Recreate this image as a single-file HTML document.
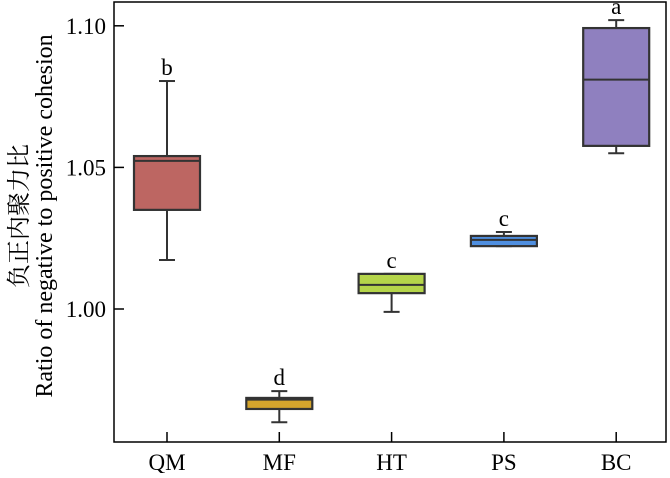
<!DOCTYPE html>
<html><head><meta charset="utf-8"><style>
body{margin:0;background:#fff}
svg text{font-family:"Liberation Serif","Noto Serif CJK SC",serif;fill:#000}
</style></head><body>
<svg id="chart" width="670" height="473" xmlns="http://www.w3.org/2000/svg"></svg>
<script>
const categories=["QM","MF","HT","PS","BC"];
const whiskerLow=[1.0173,0.960,0.999,1.0222,1.055];
const q1=[1.035,0.9647,1.0056,1.0222,1.0576];
const medians=[1.0523,0.968,1.0085,1.0244,1.081];
const q3=[1.054,0.9686,1.0124,1.0258,1.0992];
const whiskerHigh=[1.0805,0.971,1.0124,1.0272,1.102];
const letters=["b","d","c","c","a"];
const colors=["#bd6662","#d4a42c","#b5d54a","#4f8fe0","#8f80bf"];
const yTicks=[1.00,1.05,1.10];
const yTickLabels=["1.00","1.05","1.10"];

const NS="http://www.w3.org/2000/svg";
const svg=document.getElementById("chart");
const L=114,R=666,T=2,B=442;
function y(v){return 309-(v-1)*2832;}
function x(i){return 167+i*112.3;}
function mk(tag,attrs,parent){const e=document.createElementNS(NS,tag);for(const k in attrs)e.setAttribute(k,attrs[k]);(parent||svg).appendChild(e);return e;}

const frame=mk("rect",{x:L,y:T,width:R-L,height:B-T,fill:"none",stroke:"#000","stroke-width":1.5});



yTicks.forEach((v,i)=>{
  const t=mk("line",{x1:L,x2:L+10,y1:y(v),y2:y(v),stroke:"#000","stroke-width":1.5});
  
  
  const lb=mk("text",{x:L-8,y:y(v)+8,"text-anchor":"end","font-size":23});
  lb.textContent=yTickLabels[i];
  
  
});

categories.forEach((c,i)=>{
  const cx=x(i),w=66;
  const t=mk("line",{x1:cx,x2:cx,y1:B,y2:B-10,stroke:"#000","stroke-width":1.5});
  
  
  const lb=mk("text",{x:cx,y:470,"text-anchor":"middle","font-size":23});
  lb.textContent=c;
  
  
  const g=mk("g",{});
  
  
  mk("line",{x1:cx,x2:cx,y1:y(whiskerHigh[i]),y2:y(q3[i]),stroke:"#333","stroke-width":2},g);
  mk("line",{x1:cx,x2:cx,y1:y(q1[i]),y2:y(whiskerLow[i]),stroke:"#333","stroke-width":2},g);
  mk("line",{x1:cx-8,x2:cx+8,y1:y(whiskerHigh[i]),y2:y(whiskerHigh[i]),stroke:"#333","stroke-width":2},g);
  mk("line",{x1:cx-8,x2:cx+8,y1:y(whiskerLow[i]),y2:y(whiskerLow[i]),stroke:"#333","stroke-width":2},g);
  mk("rect",{x:cx-w/2,y:y(q3[i]),width:w,height:y(q1[i])-y(q3[i]),fill:colors[i],stroke:"#333","stroke-width":2.2},g);
  mk("line",{x1:cx-w/2,x2:cx+w/2,y1:y(medians[i]),y2:y(medians[i]),stroke:"#333","stroke-width":2},g);
  const lt=mk("text",{x:cx,y:y(whiskerHigh[i])-6,"text-anchor":"middle","font-size":23});
  lt.textContent=letters[i];
  
  
});
const yt=mk("text",{transform:"translate(27,216) rotate(-90)","text-anchor":"middle","font-size":24});


const t1=mk("tspan",{x:0,dy:0},yt);t1.textContent="负正内聚力比";
const t2=mk("tspan",{x:0,dy:25},yt);t2.textContent="Ratio of negative to positive cohesion";
</script>
</body></html>
